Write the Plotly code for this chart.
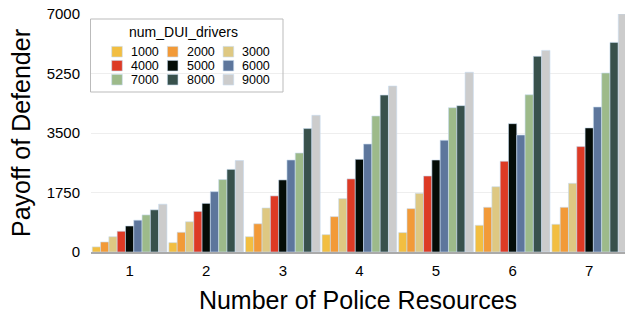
import plotly.graph_objects as go

resources = [1, 2, 3, 4, 5, 6, 7]
tick_labels = ["1", "2", "3", "4", "5", "6", "7"]
dui_levels = ["1000", "2000", "3000", "4000", "5000", "6000", "7000", "8000", "9000"]

payoff_1000 = [150, 275, 450, 510, 570, 785, 815]
payoff_2000 = [295, 580, 830, 1040, 1275, 1315, 1315]
payoff_3000 = [450, 890, 1295, 1570, 1725, 1920, 2020]
payoff_4000 = [610, 1195, 1650, 2150, 2235, 2670, 3100]
payoff_5000 = [765, 1430, 2120, 2725, 2705, 3775, 3650]
payoff_6000 = [935, 1775, 2705, 3175, 3285, 3440, 4265]
payoff_7000 = [1090, 2130, 2910, 4000, 4245, 4625, 5265]
payoff_8000 = [1240, 2430, 3630, 4615, 4305, 5755, 6165]
payoff_9000 = [1405, 2690, 4020, 4880, 5285, 5930, 7000]

series = [payoff_1000, payoff_2000, payoff_3000, payoff_4000, payoff_5000,
          payoff_6000, payoff_7000, payoff_8000, payoff_9000]
colors = ["#F2BE41", "#F29A38", "#DEC882", "#DD3A25", "#040C07",
          "#5D769C", "#9DBA8A", "#38514C", "#CCCCCC"]

y_ticks = [0, 1750, 3500, 5250, 7000]

font_family = "Arial, Liberation Sans, Helvetica, sans-serif"
outline = "rgba(200,220,240,0.6)"

W, H = 625, 316
ML, MR, MT, MB = 91, 0, 14, 64
PW, PH = W - ML - MR, H - MT - MB


def px(xp):
    return (xp - ML) / PW


def py(yp):
    return (H - MB - yp) / PH


fig = go.Figure()
for name, vals, col in zip(dui_levels, series, colors):
    fig.add_trace(go.Bar(
        x=resources, y=vals, name=name, showlegend=False,
        marker=dict(color=col, line=dict(color=outline, width=1)),
    ))

# custom 3-column legend (box, title, swatches, labels)
shapes = [dict(type="rect", xref="paper", yref="paper",
               x0=px(90.5), x1=px(283), y0=py(92), y1=py(19),
               line=dict(color="#bbbbbb", width=1), fillcolor="rgba(0,0,0,0)")]
annotations = [dict(text="num_DUI_drivers", xref="paper", yref="paper",
                    x=px(183), y=py(32), xanchor="center", yanchor="middle",
                    showarrow=False, font=dict(size=14))]
for i, (name, col) in enumerate(zip(dui_levels, colors)):
    r, c = divmod(i, 3)
    cx = 117 + 55.7 * c
    cy = 51.7 + 14 * r
    shapes.append(dict(type="rect", xref="paper", yref="paper",
                       x0=px(cx - 5.3), x1=px(cx + 5.3), y0=py(cy + 5.3), y1=py(cy - 5.3),
                       line=dict(color=outline, width=1), fillcolor=col))
    annotations.append(dict(text=name, xref="paper", yref="paper",
                            x=px(cx + 12), y=py(cy), xanchor="left", yanchor="middle",
                            showarrow=False, font=dict(size=12.5)))

fig.update_layout(
    width=W, height=H,
    margin=dict(l=ML, r=MR, t=MT, b=MB),
    paper_bgcolor="white", plot_bgcolor="white",
    barmode="group", bargap=0.025, bargroupgap=0,
    font=dict(family=font_family, color="#000"),
    showlegend=False,
    shapes=shapes, annotations=annotations,
    xaxis=dict(
        range=[0.496, 7.467], tickvals=resources, ticktext=tick_labels,
        showline=True, linecolor="#aaa", linewidth=2, showgrid=False, zeroline=False,
        ticks="outside", ticklen=4, tickcolor="rgba(0,0,0,0)",
        tickfont=dict(size=15), automargin=False,
        title=dict(text="Number of Police Resources", font=dict(size=25), standoff=13),
    ),
    yaxis=dict(
        range=[0, 7000], tickvals=y_ticks,
        showgrid=True, gridcolor="#eeeeee", gridwidth=1, zeroline=False,
        ticks="outside", ticklen=7, tickcolor="rgba(0,0,0,0)",
        tickfont=dict(size=15), automargin=False,
        title=dict(text="Payoff of Defender", font=dict(size=25), standoff=8),
    ),
)

fig.write_html("out.html", config={"displayModeBar": False},
               post_script="document.body.style.margin='0px';")
